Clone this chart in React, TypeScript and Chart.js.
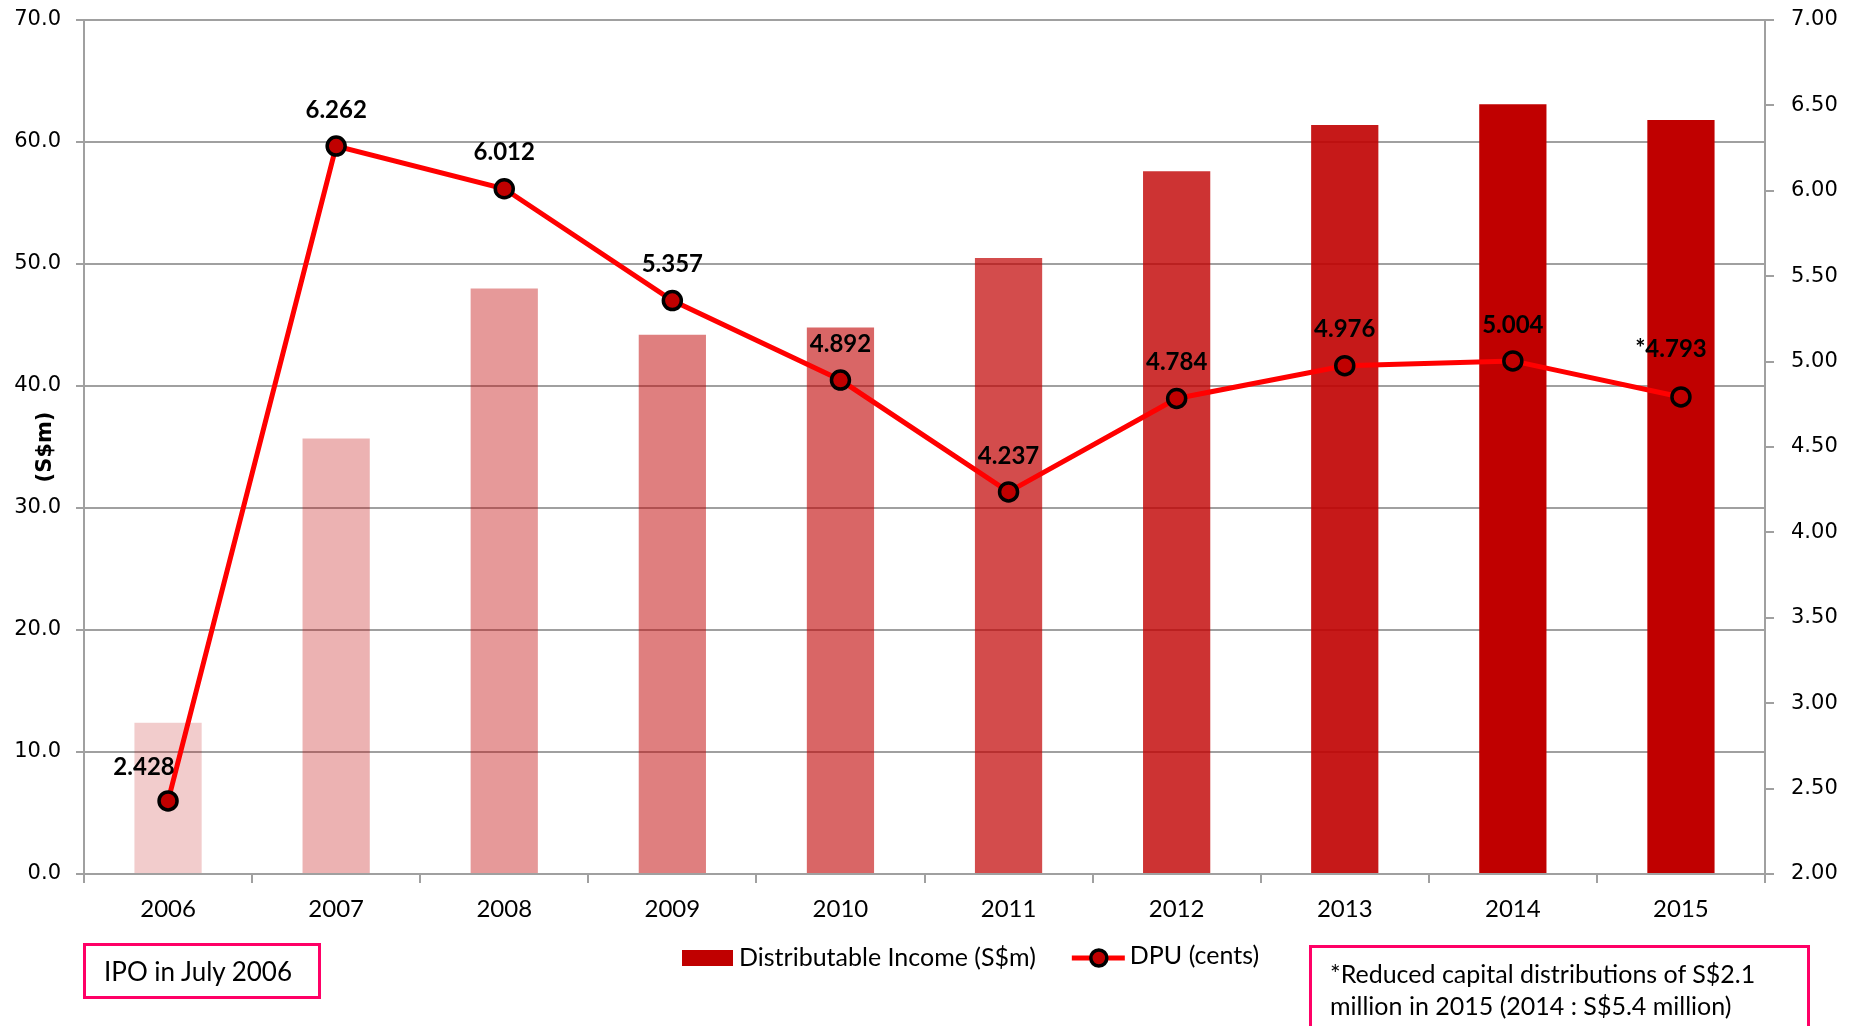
import React, { useEffect, useRef } from 'react';
import { Chart, registerables } from 'chart.js';

Chart.register(...registerables);

// ---- data ----
const years = ['2006', '2007', '2008', '2009', '2010', '2011', '2012', '2013', '2014', '2015'];
const distributableIncome = [12.4, 35.7, 48.0, 44.2, 44.8, 50.5, 57.6, 61.4, 63.1, 61.8];
const dpuCents = [2.428, 6.262, 6.012, 5.357, 4.892, 4.237, 4.784, 4.976, 5.004, 4.793];
const dpuLabels = ['2.428', '6.262', '6.012', '5.357', '4.892', '4.237', '4.784', '4.976', '5.004', '*4.793'];
const barShades = [0.2, 0.3, 0.4, 0.5, 0.6, 0.7, 0.8, 0.9, 1, 1];
const incomeLabel = 'Distributable Income (S$m)';
const dpuLabel = 'DPU (cents)';
const leftAxisTitle = '(S$m)';
const ipoNote = 'IPO in July 2006';
const footNoteLines = ['*Reduced capital distributions of S$2.1', 'million in 2015 (2014 : S$5.4 million)'];

// ---- styling ----
const GRID = '#A0A0A0';
const DARK_RED = '#C00000';
const LINE_RED = '#FF0000';
const BOX_PINK = '#FF0066';
const CAL = 'Lato, "Open Sans", sans-serif';

const labelOffsets: Record<number, [number, number]> = { 0: [-24, -34], 9: [-10, -48] };

const dpuLabelPlugin = {
  id: 'dpuLabelPlugin',
  afterDatasetsDraw(chart: any) {
    const meta = chart.getDatasetMeta(1);
    const ctx = chart.ctx;
    ctx.save();
    ctx.font = `bold 24px ${CAL}`;
    ctx.fillStyle = '#000';
    ctx.textAlign = 'center';
    ctx.textBaseline = 'middle';
    meta.data.forEach((pt: any, i: number) => {
      const [dx, dy] = labelOffsets[i] || [0, -36];
      ctx.fillText(dpuLabels[i], pt.x + dx, pt.y + dy);
    });
    ctx.restore();
  },
};

const legendPlugin = {
  id: 'customLegend',
  afterDraw(chart: any) {
    const ctx = chart.ctx;
    const ds = chart.data.datasets;
    const y = 958;
    let x = 682;
    ctx.save();
    ctx.font = `25px ${CAL}`;
    ctx.textBaseline = 'middle';
    ctx.textAlign = 'left';
    // bar item
    ctx.fillStyle = DARK_RED;
    ctx.fillRect(x, y - 8, 51, 16);
    x += 57;
    ctx.fillStyle = '#000';
    ctx.fillText(ds[0].label, x, y);
    x += ctx.measureText(ds[0].label).width + 36;
    // line item
    ctx.strokeStyle = LINE_RED;
    ctx.lineWidth = 5;
    ctx.beginPath();
    ctx.moveTo(x, y);
    ctx.lineTo(x + 53, y);
    ctx.stroke();
    ctx.beginPath();
    ctx.arc(x + 27, y, 8, 0, Math.PI * 2);
    ctx.fillStyle = DARK_RED;
    ctx.fill();
    ctx.lineWidth = 3.5;
    ctx.strokeStyle = '#000';
    ctx.stroke();
    x += 58;
    ctx.fillStyle = '#000';
    ctx.fillText(ds[1].label, x, y - 2);
    ctx.restore();
  },
};

export default function App() {
  const ref = useRef<HTMLCanvasElement>(null);

  useEffect(() => {
    const chart = new Chart(ref.current!, {
      type: 'bar',
      data: {
        labels: years,
        datasets: [
          {
            type: 'bar',
            label: incomeLabel,
            data: distributableIncome,
            backgroundColor: barShades.map((a) => `rgba(192,0,0,${a})`),
            borderWidth: 0,
            yAxisID: 'y',
            order: 1,
            categoryPercentage: 0.8,
            barPercentage: 0.5,
          },
          {
            type: 'line',
            label: dpuLabel,
            data: dpuCents,
            borderColor: LINE_RED,
            borderWidth: 5,
            pointRadius: 9,
            pointBorderWidth: 3.5,
            pointBackgroundColor: DARK_RED,
            pointBorderColor: '#000',
            tension: 0,
            yAxisID: 'y1',
            order: 0,
          },
        ] as any,
      },
      options: {
        responsive: false,
        maintainAspectRatio: false,
        animation: false,
        layout: { padding: { top: 20, left: 0, right: 0, bottom: 92 } },
        plugins: {
          legend: { display: false },
          tooltip: { enabled: false },
        },
        scales: {
          x: {
            offset: true,
            grid: {
              display: true,
              drawOnChartArea: false,
              drawTicks: true,
              tickLength: 9,
              color: GRID,
              lineWidth: 2,
              offset: true,
            },
            border: { display: true, color: GRID, width: 2 },
            ticks: {
              color: '#000',
              font: { family: CAL, size: 24 },
              padding: 12,
              maxRotation: 0,
            },
            afterFit: (s: any) => {
              s.height = 60;
            },
          },
          y: {
            position: 'left',
            min: 0,
            max: 70,
            ticks: {
              stepSize: 10,
              color: '#000',
              font: { family: 'DejaVu Sans', size: 21 },
              padding: 15,
              callback: (v: any) => Number(v).toFixed(1),
            },
            grid: { color: GRID, lineWidth: 2, tickLength: 8, drawTicks: true },
            border: { display: true, color: GRID, width: 2 },
            title: {
              display: true,
              text: leftAxisTitle,
              color: '#000',
              font: { family: 'DejaVu Sans', size: 21, weight: 'bold' },
              padding: { top: 33, bottom: 0 },
            },
            afterFit: (s: any) => {
              s.width = 84;
              s.paddingTop = 0;
              s.paddingBottom = 0;
            },
          },
          y1: {
            position: 'right',
            min: 2,
            max: 7,
            ticks: {
              stepSize: 0.5,
              color: '#000',
              font: { family: 'DejaVu Sans', size: 21 },
              padding: 17,
              callback: (v: any) => Number(v).toFixed(2),
            },
            grid: { drawOnChartArea: false, color: GRID, lineWidth: 2, tickLength: 9, drawTicks: true },
            border: { display: true, color: GRID, width: 2 },
            afterFit: (s: any) => {
              s.width = 89;
              s.paddingTop = 0;
              s.paddingBottom = 0;
            },
          },
        },
      } as any,
      plugins: [dpuLabelPlugin, legendPlugin],
    });
    return () => chart.destroy();
  }, []);

  return (
    <div
      style={{
        position: 'fixed',
        left: 0,
        top: 0,
        width: 1854,
        height: 1026,
        background: '#fff',
        overflow: 'hidden',
      }}
    >
      <canvas ref={ref} width={1854} height={1026} style={{ display: 'block', width: 1854, height: 1026 }} />
      <div
        style={{
          position: 'absolute',
          left: 83,
          top: 943,
          width: 238,
          height: 56,
          boxSizing: 'border-box',
          border: `3px solid ${BOX_PINK}`,
          fontFamily: CAL,
          fontSize: 26,
          color: '#000',
          paddingLeft: 18,
          lineHeight: '50px',
          whiteSpace: 'nowrap',
        }}
      >
        {ipoNote}
      </div>
      <div
        style={{
          position: 'absolute',
          left: 1309,
          top: 945,
          width: 501,
          height: 110,
          boxSizing: 'border-box',
          border: `3px solid ${BOX_PINK}`,
          fontFamily: CAL,
          fontSize: 25,
          color: '#000',
          paddingLeft: 18,
          paddingTop: 9,
          lineHeight: '32px',
          whiteSpace: 'nowrap',
        }}
      >
        {footNoteLines[0]}
        <br />
        {footNoteLines[1]}
      </div>
    </div>
  );
}
